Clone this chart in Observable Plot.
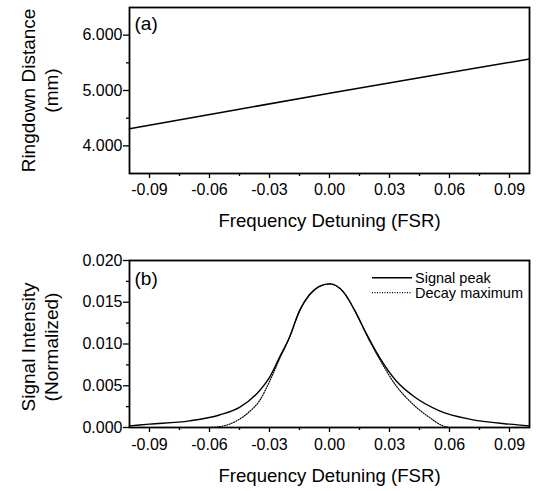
<!DOCTYPE html>
<html><head><meta charset="utf-8">
<script src="https://cdn.jsdelivr.net/npm/d3@7"></script>
<script src="https://cdn.jsdelivr.net/npm/@observablehq/plot@0.6"></script>
<style>
body{margin:0;background:#fff;}
#wrap{position:relative;width:536px;height:491px;font-family:"Liberation Sans",Arial,Helvetica,sans-serif;background:#fff;}
#wrap > .panel{position:absolute;left:0;}
#legend{position:absolute;left:0;top:0;}
</style></head><body><div id="wrap"></div>
<script>
// ---- data ----
const ringdownFreq = [-0.1, -0.05, 0, 0.05, 0.1];
const ringdownDist = [4.31, 4.63, 4.95, 5.26, 5.57];

const peakFreq = [-0.1, -0.09, -0.07, -0.055, -0.045, -0.035, -0.03, -0.025, -0.02, -0.015, -0.01, -0.005, 0, 0.0067, 0.0133, 0.0183, 0.025, 0.0333, 0.0417, 0.055, 0.07, 0.09, 0.1];
const peakVal  = [0.0002, 0.0004, 0.0008, 0.0015, 0.0024, 0.0044, 0.0060, 0.0084, 0.0108, 0.0140, 0.0159, 0.0169, 0.0172, 0.0163, 0.0137, 0.0113, 0.0084, 0.0056, 0.0038, 0.0020, 0.0010, 0.0004, 0.0002];

const decayFreq = [-0.06, -0.055, -0.05, -0.045, -0.04, -0.035, -0.03, -0.025, -0.02, -0.015, -0.01, -0.005, 0, 0.0067, 0.0133, 0.0183, 0.025, 0.0333, 0.0417, 0.05, 0.0567, 0.06];
const decayVal  = [0.0, 0.0001, 0.0004, 0.0010, 0.0019, 0.0032, 0.0055, 0.0082, 0.0108, 0.0139, 0.0159, 0.0169, 0.0172, 0.0163, 0.0137, 0.0112, 0.0082, 0.0050, 0.0028, 0.0012, 0.0002, 0.0];

const seriesNames = ["Signal peak", "Decay maximum"];
const xTicks = [-0.09, -0.06, -0.03, 0, 0.03, 0.06, 0.09];
const xMinor = [-0.075, -0.045, -0.015, 0.015, 0.045, 0.075];
const yTicksA = [4, 5, 6];
const yMinorA = [4.5, 5.5];
const yTicksB = [0, 0.005, 0.01, 0.015, 0.02];
const yMinorB = [0.0025, 0.0075, 0.0125, 0.0175];
const xLabel = "Frequency Detuning (FSR)";
const yLabelA = ["Ringdown Distance", "(mm)"];
const yLabelB = ["Signal Intensity", "(Normalized)"];
const panelLabels = ["(a)", "(b)"];

const FONT = '"Liberation Sans", Arial, Helvetica, sans-serif';
const wrap = document.getElementById("wrap");

function axes(yTicks, yMinor, yFmt, xPad) {
  return [
    Plot.axisX({ticks: xTicks, tickSize: 5, tickPadding: xPad, tickFormat: d => d.toFixed(2), label: null, fontSize: 16, strokeWidth: 1.3}),
    Plot.axisX({ticks: xMinor, tickSize: 3, tickFormat: () => "", label: null, strokeWidth: 1.3}),
    Plot.axisY({ticks: yTicks, tickSize: 6, tickPadding: 1, tickFormat: yFmt, label: null, fontSize: 16, strokeWidth: 1.3}),
    Plot.axisY({ticks: yMinor, tickSize: 3, tickFormat: () => "", label: null, strokeWidth: 1.3})
  ];
}

function yLabels(lines, dy) {
  return [
    Plot.text([lines[0]], {text: d => d, frameAnchor: "left", rotate: -90, dx: -101, dy, fontSize: 19, textAnchor: "middle", lineAnchor: "middle"}),
    Plot.text([lines[1]], {text: d => d, frameAnchor: "left", rotate: -90, dx: -78, dy, fontSize: 19, textAnchor: "middle", lineAnchor: "middle"})
  ];
}

const common = {
  width: 536, marginLeft: 129, marginRight: 7,
  x: {domain: [-0.1, 0.1]},
  style: {fontFamily: FONT, color: "#000", background: "#fff", overflow: "visible"}
};

// Panel (a)
const ringData = ringdownFreq.map((f, i) => ({f, v: ringdownDist[i]}));
const plotA = Plot.plot({
  ...common, height: 240, marginTop: 7, marginBottom: 67,
  y: {domain: [3.5, 6.5]},
  marks: [
    ...axes(yTicksA, yMinorA, d => d.toFixed(3), 5),
    Plot.line(ringData, {x: "f", y: "v", stroke: "#000", strokeWidth: 1.5}),
    Plot.frame({stroke: "#000", strokeWidth: 1.8}),
    Plot.text([panelLabels[0]], {text: d => d, frameAnchor: "top-left", dx: 5, dy: 8.5, fontSize: 19, textAnchor: "start", lineAnchor: "top"}),
    Plot.text([xLabel], {text: d => d, frameAnchor: "bottom", dy: 40, fontSize: 18.6, lineAnchor: "top"}),
    ...yLabels(yLabelA, 0)
  ]
});
plotA.classList.add("panel");
plotA.style.top = "0px";
wrap.appendChild(plotA);

// Panel (b)
const peakData = peakFreq.map((f, i) => ({f, v: peakVal[i]}));
const decayData = decayFreq.map((f, i) => ({f, v: decayVal[i]}));
const plotB = Plot.plot({
  ...common, height: 251, marginTop: 20, marginBottom: 64,
  y: {domain: [0, 0.02]},
  marks: [
    ...axes(yTicksB, yMinorB, d => d.toFixed(3), 6),
    Plot.line(decayData, {x: "f", y: "v", stroke: "#000", strokeWidth: 1.2, strokeDasharray: "1,1.5", curve: "monotone-x"}),
    Plot.line(peakData, {x: "f", y: "v", stroke: "#000", strokeWidth: 1.4, curve: "monotone-x"}),
    Plot.frame({stroke: "#000", strokeWidth: 1.8}),
    Plot.text([panelLabels[1]], {text: d => d, frameAnchor: "top-left", dx: 5, dy: 10.5, fontSize: 19, textAnchor: "start", lineAnchor: "top"}),
    Plot.text([xLabel], {text: d => d, frameAnchor: "bottom", dy: 41, fontSize: 18.6, lineAnchor: "top"}),
    ...yLabels(yLabelB, 3)
  ]
});
plotB.classList.add("panel");
plotB.style.top = "240px";
wrap.appendChild(plotB);

// Legend (overlay)
const dashes = [null, "1,1.5"];
const ns = "http://www.w3.org/2000/svg";
const leg = document.createElementNS(ns, "svg");
leg.setAttribute("id", "legend");
leg.setAttribute("width", 536);
leg.setAttribute("height", 491);
seriesNames.forEach((name, i) => {
  const y = 277.7 + i * 15;
  const ln = document.createElementNS(ns, "line");
  ln.setAttribute("x1", 372); ln.setAttribute("x2", 412);
  ln.setAttribute("y1", y); ln.setAttribute("y2", y);
  ln.setAttribute("stroke", "#000");
  ln.setAttribute("stroke-width", i ? 1.2 : 1.4);
  if (dashes[i]) ln.setAttribute("stroke-dasharray", dashes[i]);
  leg.appendChild(ln);
  const t = document.createElementNS(ns, "text");
  t.setAttribute("x", 415); t.setAttribute("y", y + 4.8);
  t.setAttribute("font-size", 14.5);
  t.setAttribute("font-family", FONT);
  t.textContent = name;
  leg.appendChild(t);
});
wrap.appendChild(leg);
</script>
</body></html>
